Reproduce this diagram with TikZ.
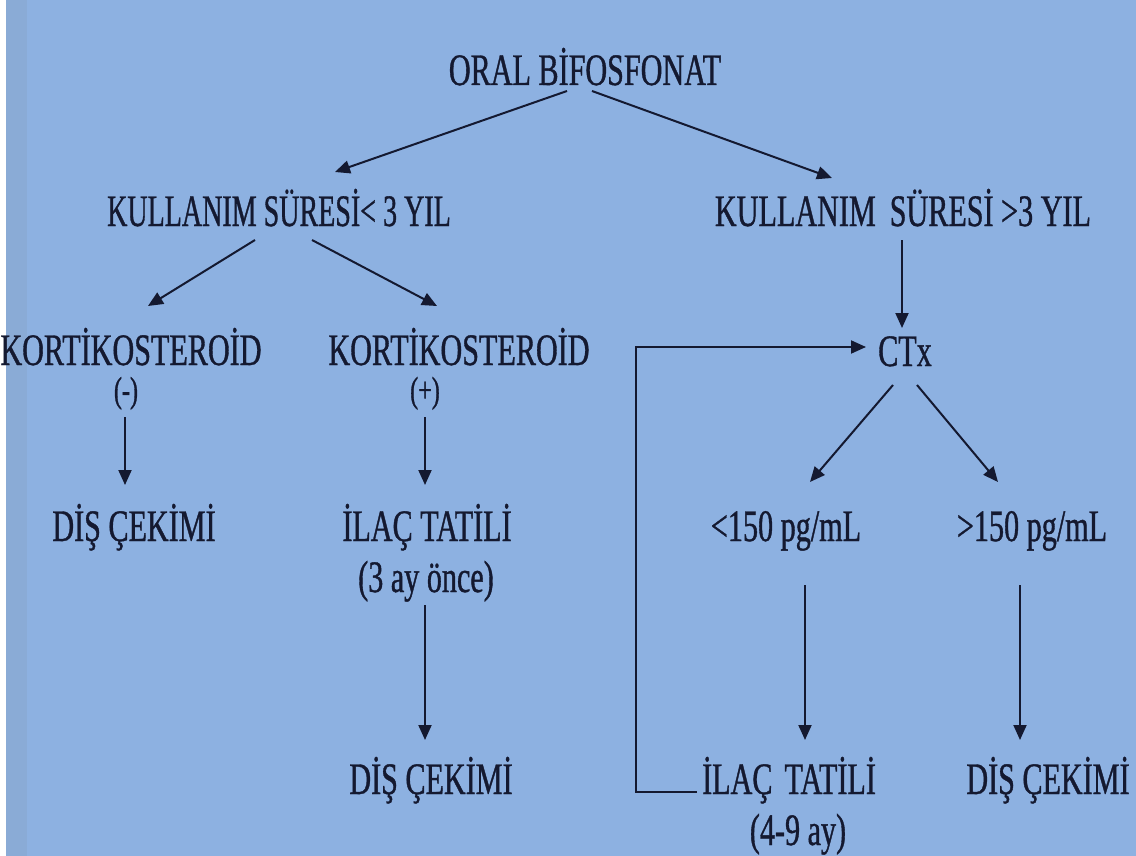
\documentclass[tikz,border=0pt]{standalone}
\usepackage{fontspec}
\setmainfont{Liberation Serif}[FakeStretch=0.67,FakeBold=0.8]
\usetikzlibrary{arrows.meta,calc}
\definecolor{bgblue}{RGB}{141,177,225}
\definecolor{edgeblue}{RGB}{138,171,214}
\definecolor{ink}{RGB}{20,25,48}
\begin{document}
\begin{tikzpicture}[x=1pt,y=-1pt,
  txt/.style={anchor=base,inner sep=0pt,text=ink,font=\fontsize{45}{50}\selectfont},
  sign/.style={txt,font=\fontsize{36}{40}\selectfont},
  arr/.style={draw=ink,line width=2pt,-{Triangle[length=15pt,width=13pt]}},
  ln/.style={draw=ink,line width=2pt}]
% background
\fill[bgblue] (0,0) rectangle (1136,856);
\fill[edgeblue] (6,0) rectangle (27,856);
\fill[white] (0,0) rectangle (6,856);
\useasboundingbox (0,0) rectangle (1136,856);

% nodes
\node[txt] (oral)  at (585,85)  {ORAL BİFOSFONAT};
\node[txt] (kul1)  at (279,226) {\scalebox{0.93}[1]{KULLANIM SÜRESİ< 3 YIL}};
\node[txt] (kul2)  at (903,226) {KULLANIM\hspace{14pt}SÜRESİ >3 YIL};
\node[txt] (kor1)  at (131,365) {KORTİKOSTEROİD};
\node[sign] (minus) at (126,402) {(-)};
\node[txt] (kor2)  at (459,365) {KORTİKOSTEROİD};
\node[sign] (plus)  at (425,402) {(+)};
\node[txt] (ctx)   at (905,366) {CTx};
\node[txt] (dis1)  at (134,541) {DİŞ ÇEKİMİ};
\node[txt] (ilac1) at (427,541) {İLAÇ TATİLİ};
\node[txt] (ay3)   at (426,592) {(3 ay önce)};
\node[txt] (dis2)  at (431,794) {DİŞ ÇEKİMİ};
\node[txt] (lt150) at (786,541) {<150 pg/mL};
\node[txt] (gt150) at (1032,541) {>150 pg/mL};
\node[txt] (ilac2) at (789,794) {İLAÇ\hspace{12pt}TATİLİ};
\node[txt] (ay49)  at (798,845) {(4-9 ay)};
\node[txt] (dis3)  at (1048,794) {DİŞ ÇEKİMİ};

% connectors
\draw[arr] ($(oral.base)+(-18,6)$) -- ($(kul1.base)+(56,-54)$);
\draw[arr] ($(oral.base)+(7,6)$) -- ($(kul2.base)+(-71,-48)$);
\draw[arr] ($(kul1.base)+(-24,14)$) -- ($(kor1.base)+(17,-59)$);
\draw[arr] ($(kul1.base)+(33,14)$) -- ($(kor2.base)+(-22,-59)$);
\draw[arr] ($(kul2.base)+(-1,14)$) -- ($(ctx.base)+(-3,-38)$);
\draw[arr] ($(minus.base)+(-1,15)$) -- ($(dis1.base)+(-9,-56)$);
\draw[arr] ($(plus.base)+(0,15)$) -- ($(ilac1.base)+(-2,-56)$);
\draw[arr] ($(ay3.base)+(-1,13)$) -- ($(dis2.base)+(-6,-54)$);
\draw[arr] ($(ctx.base)+(-12,19)$) -- ($(lt150.base)+(24,-59)$);
\draw[arr] ($(ctx.base)+(12,19)$) -- ($(gt150.base)+(-34,-59)$);
\draw[arr] ($(lt150.base)+(19,44)$) -- ($(ilac2.base)+(16,-54)$);
\draw[arr] ($(gt150.base)+(-12,44)$) -- ($(dis3.base)+(-28,-54)$);
% loop back from the drug holiday to CTx
\draw[arr] ($(ilac2.base)+(-92,-2)$) -- ++(-61,0) |- ($(ctx.base)+(-39,-19)$);
\end{tikzpicture}
\end{document}
